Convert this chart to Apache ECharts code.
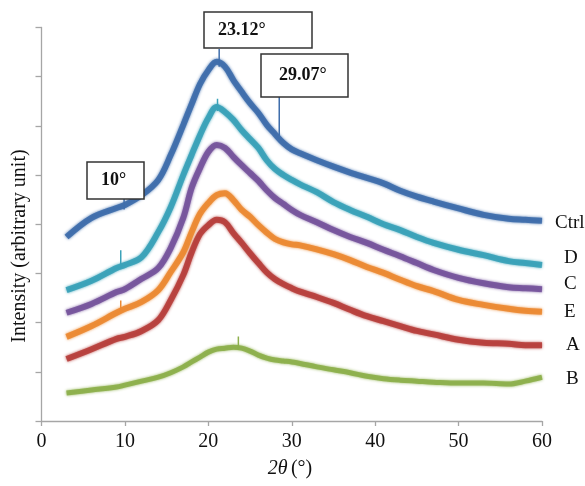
<!DOCTYPE html>
<html><head><meta charset="utf-8">
<script src="https://cdn.jsdelivr.net/npm/echarts@6/dist/echarts.min.js"></script>
<style>html,body{margin:0;padding:0;background:#fff}#c{width:585px;height:486px}</style>
</head><body><div id="c"></div>
<script>
const theta = [3,6,9,10,12,14,15.5,17,18,19,20,21,22,23,24,25,26,27,28,29,30,31,33,35,37,39,41,43,45,47,50,53,56,58,60];
const ctrl = [3.74,4.13,4.33,4.39,4.59,4.90,5.41,6.02,6.44,6.85,7.13,7.30,7.20,6.93,6.69,6.46,6.26,6.02,5.83,5.65,5.52,5.44,5.30,5.17,5.05,4.94,4.83,4.68,4.56,4.46,4.32,4.19,4.11,4.09,4.07];
const sD = [2.66,2.85,3.11,3.17,3.33,3.84,4.35,5.00,5.41,5.81,6.16,6.38,6.28,6.12,5.91,5.73,5.55,5.30,5.12,5.00,4.90,4.81,4.65,4.45,4.29,4.15,4.00,3.88,3.74,3.62,3.48,3.37,3.25,3.21,3.17];
const sC = [2.20,2.38,2.62,2.68,2.89,3.11,3.52,4.13,4.74,5.14,5.47,5.61,5.55,5.37,5.20,5.04,4.88,4.69,4.53,4.41,4.29,4.19,4.04,3.88,3.74,3.62,3.48,3.35,3.21,3.07,2.91,2.80,2.72,2.70,2.68];
const sE = [1.71,1.93,2.20,2.28,2.42,2.66,3.03,3.43,3.84,4.21,4.43,4.59,4.63,4.49,4.29,4.15,3.98,3.83,3.70,3.63,3.59,3.57,3.49,3.39,3.27,3.13,3.01,2.87,2.74,2.64,2.46,2.36,2.28,2.24,2.22];
const sA = [1.26,1.46,1.67,1.71,1.83,2.05,2.46,2.97,3.43,3.80,3.98,4.09,4.04,3.82,3.62,3.41,3.21,3.02,2.88,2.78,2.70,2.63,2.52,2.40,2.26,2.13,2.03,1.93,1.83,1.76,1.65,1.59,1.57,1.54,1.54];
const sB = [0.57,0.63,0.69,0.73,0.81,0.89,0.98,1.10,1.20,1.30,1.40,1.46,1.48,1.50,1.48,1.42,1.34,1.28,1.24,1.22,1.20,1.17,1.10,1.04,0.98,0.91,0.86,0.83,0.81,0.79,0.77,0.77,0.75,0.81,0.89];
// narrow spikes: [2theta, base, top]
const ctrlSpikes = [[9.9,4.30,4.55],[21.3,7.20,7.56],[28.5,5.80,6.60]];
const dSpikes = [[9.5,3.10,3.47],[21.1,6.30,6.55]];
const eSpikes = [[9.5,2.20,2.45]];
const bSpikes = [[23.6,1.45,1.72]];
const xTicks = [0,10,20,30,40,50,60];

const curves = [
  {name:'B', v:sB, color:'#8db04c', spikes:bSpikes, w:5},
  {name:'A', v:sA, color:'#b7403d', spikes:[], w:6},
  {name:'E', v:sE, color:'#ec8a33', spikes:eSpikes, w:6},
  {name:'C', v:sC, color:'#76559c', spikes:[], w:6},
  {name:'D', v:sD, color:'#3aa2b9', spikes:dSpikes, w:6},
  {name:'Ctrl', v:ctrl, color:'#3f6eab', spikes:ctrlSpikes, w:6}
];
const series = [];
curves.forEach(c => {
  series.push({type:'line', name:c.name, data:theta.map((t,i)=>[t,c.v[i]]), showSymbol:false, smooth:0.35,
    lineStyle:{color:c.color, width:c.w, opacity:0.92, shadowBlur:3, shadowColor:c.color}, silent:true, z:2});
  if (c.spikes.length) {
    const d = [];
    c.spikes.forEach(s => { d.push([s[0],s[1]]); d.push([s[0],s[2]]); d.push([s[0],'-']); });
    series.push({type:'line', data:d, showSymbol:false, connectNulls:false,
      lineStyle:{color:c.color, width:1.5}, silent:true, z:3});
  }
});

const serif = 'Liberation Serif, Times New Roman, serif';
const chart = echarts.init(document.getElementById('c'), null, {renderer:'canvas'});
function box(x,y,w,h,text,tx){
  return [{type:'rect', shape:{x:x,y:y,width:w,height:h}, style:{fill:'#fff', stroke:'#333', lineWidth:1.5}, z:10},
          {type:'text', x:tx, y:y+h/2, style:{text:text, font:'bold 18px '+serif, fill:'#111', textVerticalAlign:'middle'}, z:11}];
}
const lab = (t,x,y) => ({type:'text', x:x, y:y, style:{text:t, font:'19px '+serif, fill:'#111', textVerticalAlign:'middle'}});
chart.setOption({
  animation:false,
  grid:{left:41.5, right:43, top:27.4, bottom:65},
  xAxis:{type:'value', min:0, max:60, interval:10,
    axisLine:{lineStyle:{color:'#a6a6a6', width:1.3}},
    axisTick:{length:5, lineStyle:{color:'#a6a6a6', width:1.3}},
    axisLabel:{color:'#111', fontFamily:serif, fontSize:20, margin:11,
      formatter:v => xTicks.includes(v) ? String(v) : ''},
    splitLine:{show:false}},
  yAxis:{type:'value', min:0, max:8, interval:1,
    axisLine:{show:true, lineStyle:{color:'#a6a6a6', width:1.3}},
    axisTick:{show:true, length:6, lineStyle:{color:'#a6a6a6', width:1.3}},
    axisLabel:{show:false}, splitLine:{show:false}},
  series:series,
  graphic:[
    ...box(204,12,108,36,'23.12°',218),
    ...box(261,54,87,43,'29.07°',279),
    ...box(87,162,57,37,'10°',101),
    lab('Ctrl',555,223), lab('D',564,258), lab('C',564,284), lab('E',564,312), lab('A',566,345), lab('B',566,379),
    {type:'text', x:20, y:246, rotation:Math.PI/2, style:{text:'Intensity (arbitrary unit)', font:'20px '+serif, fill:'#111', textAlign:'center', textVerticalAlign:'middle'}},
    {type:'text', x:290, y:469, style:{rich:{i:{fontStyle:'italic', fontFamily:serif, fontSize:20, fill:'#111'}, n:{fontFamily:serif, fontSize:20, fill:'#111'}}, text:'{i|2θ} {n|(°)}', textAlign:'center', textVerticalAlign:'middle'}}
  ]
});
</script></body></html>
